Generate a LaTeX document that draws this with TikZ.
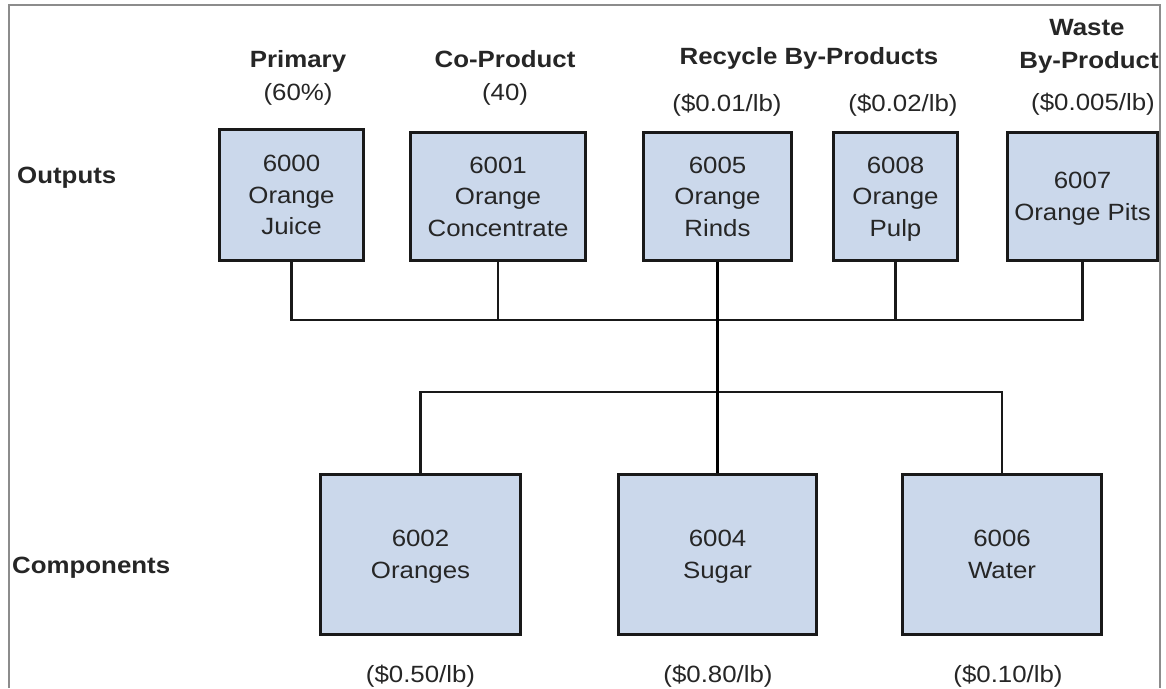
\documentclass[tikz,border=0pt]{standalone}
\usepackage{fontspec}
\setmainfont[FakeStretch=1.1]{Liberation Sans}
\definecolor{boxfill}{HTML}{CBD8EB}
\definecolor{ink}{HTML}{262626}
\definecolor{framegray}{HTML}{8C8C8C}
\newcommand{\flatline}[1]{\raisebox{0pt}[\height][0pt]{#1}}
\begin{document}
\begin{tikzpicture}[x=1pt,y=-1pt,
  item/.style={draw=black!90, line width=3pt, fill=boxfill, inner sep=0pt, align=center, text=ink, font=\fontsize{23.5}{31.5}\selectfont},
  conn/.style={draw=black!90, line width=2.5pt},
  trunk/.style={draw=black, line width=3.5pt},
  head/.style={font=\bfseries\fontsize{23.5}{33}\selectfont, text=ink, anchor=base, inner sep=0pt},
  note/.style={font=\fontsize{23.5}{33}\selectfont, text=ink, anchor=base, inner sep=0pt},
  side/.style={font=\bfseries\fontsize{23.5}{33}\selectfont, text=ink, anchor=base west, inner sep=0pt}]
\useasboundingbox (0,0) rectangle (1166,688);
\fill[white] (0,0) rectangle (1166,688);

% output boxes
\node[item, minimum width=144pt, minimum height=131pt] (b6000) at (291.5,195) {6000\\Orange\\\flatline{Juice}};
\node[item, minimum width=175pt, minimum height=128pt] (b6001) at (498,196.5) {6001\\Orange\\\flatline{Concentrate}};
\node[item, minimum width=148pt, minimum height=128pt] (b6005) at (717.5,196.5) {6005\\Orange\\\flatline{Rinds}};
\node[item, minimum width=124pt, minimum height=128pt] (b6008) at (895.5,196.5) {6008\\Orange\\\flatline{Pulp}};
\node[item, minimum width=150pt, minimum height=128pt] (b6007) at (1082.5,196.5) {6007\\\flatline{Orange Pits}};

% component boxes
\node[item, minimum width=200pt, minimum height=160pt] (b6002) at (420.5,554.5) {6002\\\flatline{Oranges}};
\node[item, minimum width=198pt, minimum height=160pt] (b6004) at (717.5,554.5) {6004\\\flatline{Sugar}};
\node[item, minimum width=199pt, minimum height=160pt] (b6006) at (1002,554.5) {6006\\\flatline{Water}};

% connectors
\coordinate (tj) at (717.5,320);
\coordinate (bj) at (717.5,392);
\draw[conn] (b6000.south) |- (tj);
\draw[conn] (b6001.south) |- (tj);
\draw[conn] (b6008.south) |- (tj);
\draw[conn] (b6007.south) |- (tj);
\draw[conn] (b6002.north) |- (bj);
\draw[conn] (b6006.north) |- (bj);
\draw[trunk] (b6005.south) -- (b6004.north);

% headings
\node[head] (hprim) at (298,67) {Primary};
\node[note] (pprim) at (298,100.5) {(60\%)};
\node[head] (hco) at (505,67) {Co-Product};
\node[note] (pco) at (505,100.5) {(40)};
\node[head] (hrec) at (809,64) {Recycle By-Products};
\node[head] (hwaste1) at (1087,35) {Waste};
\node[head] (hwaste2) at (1089,68) {By-Product};
\node[note] (p6005) at (727,111) {(\$0.01/lb)};
\node[note] (p6008) at (903,111) {(\$0.02/lb)};
\node[note] (p6007) at (1093,110) {(\$0.005/lb)};

\node[side] (lout) at (17,183) {Outputs};
\node[side] (lcomp) at (12,573) {Components};

\node[note] (p6002) at (420.5,682) {(\$0.50/lb)};
\node[note] (p6004) at (718,682) {(\$0.80/lb)};
\node[note] (p6006) at (1008,682) {(\$0.10/lb)};

% frame
\draw[framegray, line width=1.5pt] (9,688) -- (9,5) -- (1160,5) -- (1160,688);
\end{tikzpicture}
\end{document}
